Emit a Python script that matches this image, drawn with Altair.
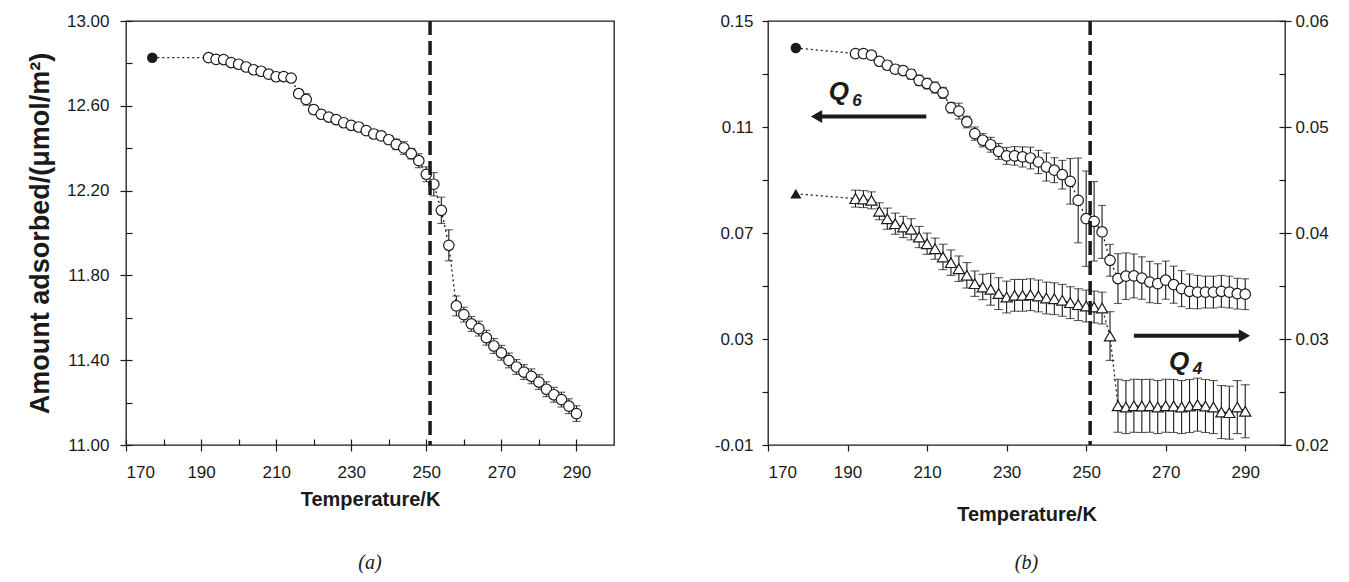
import altair as alt
import pandas as pd

# ---------------- data ----------------
temps = [192, 194, 196, 198, 200, 202, 204, 206, 208, 210, 212, 214, 216, 218, 220,
         222, 224, 226, 228, 230, 232, 234, 236, 238, 240, 242, 244, 246, 248, 250,
         252, 254, 256, 258, 260, 262, 264, 266, 268, 270, 272, 274, 276, 278, 280,
         282, 284, 286, 288, 290]
start_temp = 177
transition_temp = 251

amount_first = 12.827
amount = [12.827, 12.819, 12.818, 12.804, 12.796, 12.783, 12.770, 12.763, 12.749, 12.737,
          12.738, 12.731, 12.657, 12.630, 12.582, 12.560, 12.547, 12.535, 12.520, 12.508,
          12.500, 12.483, 12.467, 12.458, 12.440, 12.418, 12.401, 12.374, 12.341, 12.277,
          12.230, 12.107, 11.942, 11.656, 11.615, 11.571, 11.549, 11.506, 11.467, 11.435,
          11.399, 11.368, 11.344, 11.324, 11.297, 11.263, 11.237, 11.214, 11.183, 11.148]
amount_err = [0.010, 0.010, 0.010, 0.010, 0.010, 0.010, 0.010, 0.010, 0.010, 0.010,
              0.010, 0.012, 0.020, 0.027, 0.020, 0.018, 0.016, 0.016, 0.016, 0.016,
              0.017, 0.018, 0.018, 0.019, 0.020, 0.025, 0.030, 0.025, 0.033, 0.035,
              0.055, 0.062, 0.073, 0.047, 0.035, 0.035, 0.035, 0.035, 0.035, 0.035,
              0.035, 0.035, 0.035, 0.035, 0.035, 0.035, 0.035, 0.035, 0.035, 0.037]

q6_first = 0.1398
q6 = [0.1377, 0.1377, 0.1371, 0.1348, 0.1333, 0.1318, 0.1313, 0.1299, 0.1276, 0.1264,
      0.1249, 0.1229, 0.1173, 0.1160, 0.1119, 0.1075, 0.1050, 0.1033, 0.1008, 0.0991,
      0.0991, 0.0987, 0.0983, 0.0968, 0.0949, 0.0937, 0.0920, 0.0895, 0.0823, 0.0754,
      0.0744, 0.0704, 0.0597, 0.0528, 0.0537, 0.0538, 0.0530, 0.0515, 0.0509, 0.0522,
      0.0505, 0.0490, 0.0480, 0.0477, 0.0477, 0.0477, 0.0480, 0.0477, 0.0471, 0.0469]
q6_err = [0.0012, 0.0012, 0.0012, 0.0014, 0.0015, 0.0015, 0.0016, 0.0018, 0.0020, 0.0020,
          0.0021, 0.0021, 0.0020, 0.0030, 0.0022, 0.0025, 0.0025, 0.0028, 0.0030, 0.0032,
          0.0035, 0.0038, 0.0041, 0.0044, 0.0053, 0.0047, 0.0054, 0.0086, 0.0160, 0.0180,
          0.0150, 0.0100, 0.0060, 0.0094, 0.0088, 0.0083, 0.0080, 0.0078, 0.0075, 0.0072,
          0.0070, 0.0068, 0.0065, 0.0063, 0.0060, 0.0060, 0.0060, 0.0060, 0.0058, 0.0058]

q4_first = 0.0437
q4 = [0.04324, 0.04320, 0.04308, 0.04205, 0.04135, 0.04088, 0.04057, 0.04035, 0.03962, 0.03899,
      0.03852, 0.03774, 0.03720, 0.03663, 0.03601, 0.03522, 0.03491, 0.03469, 0.03428, 0.03396,
      0.03412, 0.03412, 0.03418, 0.03406, 0.03387, 0.03380, 0.03365, 0.03343, 0.03324, 0.03311,
      0.03302, 0.03292, 0.03028, 0.02370, 0.02358, 0.02370, 0.02368, 0.02370, 0.02358, 0.02370,
      0.02368, 0.02358, 0.02368, 0.02380, 0.02368, 0.02358, 0.02311, 0.02305, 0.02358, 0.02318]
q4_err = [0.0008, 0.0008, 0.0008, 0.0008, 0.0010, 0.0010, 0.0010, 0.0010, 0.0010, 0.0010,
          0.0010, 0.0012, 0.0012, 0.0012, 0.0012, 0.0012, 0.0012, 0.0015, 0.0015, 0.0015,
          0.0015, 0.0015, 0.0015, 0.0015, 0.0015, 0.0015, 0.0015, 0.0015, 0.0015, 0.0015,
          0.0015, 0.0015, 0.0023, 0.0025, 0.0025, 0.0025, 0.0025, 0.0025, 0.0025, 0.0025,
          0.0025, 0.0025, 0.0025, 0.0025, 0.0025, 0.0025, 0.0025, 0.0025, 0.0025, 0.0025]

# axis tick values
x_major = [170, 190, 210, 230, 250, 270, 290]
x_minor = [180, 200, 220, 240, 260, 280]
amount_major = [11.0, 11.4, 11.8, 12.2, 12.6, 13.0]
amount_minor = [11.2, 11.6, 12.0, 12.4, 12.8]
q6_ticks = [-0.01, 0.01, 0.03, 0.05, 0.07, 0.09, 0.11, 0.13, 0.15]
q4_major = [0.02, 0.03, 0.04, 0.05, 0.06]
q4_minor = [0.025, 0.035, 0.045, 0.055]

# annotations (data coordinates)
q6_arrow_from, q6_arrow_to, q6_arrow_level = 209.8, 182.2, 0.114
q4_arrow_from, q4_arrow_to, q4_arrow_level = 262.0, 289.8, 0.0303
q6_label_T, q6_label_v, q6_sub_T, q6_sub_v = 187.8, 0.1232, 192.4, 0.1200
q4_label_T, q4_label_v, q4_sub_T, q4_sub_v = 273.4, 0.0278, 278.0, 0.0272

# ---------------- styling ----------------
FONT = "Liberation Sans"
INK = "#1a1a1a"
CIRCLE_SIZE = 110
TRIANGLE_SIZE = 125


def frame(values, err):
    d = pd.DataFrame({"T": temps, "v": values, "e": err})
    d["lo"] = d["v"] - d["e"]
    d["hi"] = d["v"] + d["e"]
    return d


def series(d, first_val, xs, ys, line_x_axis, line_y_axis, err_x_axis, err_y_axis,
           marker, cap=8):
    first = pd.DataFrame({"T": [start_temp], "v": [first_val]})
    line_df = pd.concat([first, d[["T", "v"]]], ignore_index=True)
    line = alt.Chart(line_df).mark_line(color=INK, strokeWidth=1.3, strokeDash=[2, 3]).encode(
        x=alt.X("T:Q", scale=xs, axis=line_x_axis),
        y=alt.Y("v:Q", scale=ys, axis=line_y_axis),
        order="T:Q",
    )
    bars = alt.Chart(d).mark_rule(color=INK, strokeWidth=1.1).encode(
        x=alt.X("T:Q", scale=xs, axis=err_x_axis),
        y=alt.Y("lo:Q", scale=ys, axis=err_y_axis),
        y2="hi:Q",
    )
    caps = alt.Chart(d).transform_fold(["lo", "hi"], as_=["k", "c"]).mark_tick(
        orient="horizontal", size=cap, thickness=1.1, color=INK
    ).encode(
        x=alt.X("T:Q", scale=xs, axis=None),
        y=alt.Y("c:Q", scale=ys, axis=None),
    )
    if marker == "circle":
        pts = alt.Chart(d).mark_circle(size=CIRCLE_SIZE, color="white", stroke=INK,
                                       strokeWidth=1.2, opacity=1)
        fpt = alt.Chart(first).mark_circle(size=CIRCLE_SIZE, color=INK, opacity=1)
    else:
        pts = alt.Chart(d).mark_point(shape="triangle-up", size=TRIANGLE_SIZE, filled=True,
                                      fill="white", stroke=INK, strokeWidth=1.2, opacity=1)
        fpt = alt.Chart(first).mark_point(shape="triangle-up", size=TRIANGLE_SIZE, filled=True,
                                          color=INK, opacity=1)
    enc = dict(x=alt.X("T:Q", scale=xs, axis=None), y=alt.Y("v:Q", scale=ys, axis=None))
    return [line, bars, caps, pts.encode(**enc), fpt.encode(**enc)]


def vline(xs):
    return alt.Chart(pd.DataFrame({"T": [transition_temp]})).mark_rule(
        color=INK, strokeWidth=3.5, strokeDash=[14, 6]
    ).encode(x=alt.X("T:Q", scale=xs, axis=None))


def arrow(x_from, x_to, level, shape, xs, ys):
    shaft = alt.Chart(pd.DataFrame({"a": [x_from], "b": [x_to], "v": [level]})).mark_rule(
        color=INK, strokeWidth=4
    ).encode(x=alt.X("a:Q", scale=xs, axis=None), x2="b:Q",
             y=alt.Y("v:Q", scale=ys, axis=None))
    head = alt.Chart(pd.DataFrame({"T": [x_to], "v": [level]})).mark_point(
        shape=shape, filled=True, color=INK, size=170, opacity=1
    ).encode(x=alt.X("T:Q", scale=xs, axis=None), y=alt.Y("v:Q", scale=ys, axis=None))
    return [shaft, head]


def qlabel(tq, vq, ts, vs, sub, xs, ys):
    big = alt.Chart(pd.DataFrame({"T": [tq], "v": [vq], "t": ["Q"]})).mark_text(
        font=FONT, fontSize=26, fontStyle="italic", fontWeight="bold", color=INK
    ).encode(x=alt.X("T:Q", scale=xs, axis=None), y=alt.Y("v:Q", scale=ys, axis=None), text="t:N")
    small = alt.Chart(pd.DataFrame({"T": [ts], "v": [vs], "t": [sub]})).mark_text(
        font=FONT, fontSize=17, fontStyle="italic", fontWeight="bold", color=INK
    ).encode(x=alt.X("T:Q", scale=xs, axis=None), y=alt.Y("v:Q", scale=ys, axis=None), text="t:N")
    return [big, small]


# ---------------- panel (a) ----------------
xs_a = alt.Scale(domain=[170, 300], nice=False, zero=False)
ys_a = alt.Scale(domain=[11, 13], nice=False, zero=False)

ax_x_major = alt.Axis(orient="bottom", values=x_major, format="d", tickSize=12, offset=-6,
                      domain=False, grid=False, labelPadding=13, title="Temperature/K",
                      titlePadding=9)
ax_x_minor = alt.Axis(orient="bottom", values=x_minor, labels=False, tickSize=6, offset=-6,
                      domain=False, grid=False, title=None)
ax_y_major = alt.Axis(orient="left", values=amount_major, format=".2f", tickSize=12, offset=-6,
                      domain=False, grid=False, labelPadding=11,
                      title="Amount adsorbed/(\u03bcmol/m\u00b2)", titleFontSize=27,
                      titlePadding=12)
ax_y_minor = alt.Axis(orient="left", values=amount_minor, labels=False, tickSize=6, offset=-6,
                      domain=False, grid=False, title=None)

df_a = frame(amount, amount_err)
layers_a = series(df_a, amount_first, xs_a, ys_a, ax_x_major, ax_y_major,
                  ax_x_minor, ax_y_minor, "circle")
panel_a = alt.layer(*layers_a, vline(xs_a)).resolve_axis(
    x="independent", y="independent"
).properties(
    width=488, height=424,
    title=alt.TitleParams("(a)", orient="bottom", font="Liberation Serif", fontSize=20,
                          fontStyle="italic", fontWeight="normal", color=INK, offset=44),
)

# ---------------- panel (b) ----------------
xs_b = alt.Scale(domain=[170, 300], nice=False, zero=False)
ys_q6 = alt.Scale(domain=[-0.01, 0.15], nice=False, zero=False)
ys_q4 = alt.Scale(domain=[0.02, 0.06], nice=False, zero=False)

ax_xb = alt.Axis(orient="bottom", values=x_major, format="d", tickSize=6, domain=False,
                 grid=False, labelPadding=13, title="Temperature/K", titlePadding=24)
ax_q6 = alt.Axis(orient="left", values=q6_ticks, tickSize=6, domain=False, grid=False,
                 labelPadding=9, title=None,
                 labelExpr="(round(datum.value*100)+1) % 4 == 0 ? "
                           "replace(format(datum.value, '.2f'), '\u2212', '-') : ''")
ax_q4_major = alt.Axis(orient="right", values=q4_major, format=".2f", tickSize=12, offset=-6,
                       domain=False, grid=False, labelPadding=4, title=None)
ax_q4_minor = alt.Axis(orient="right", values=q4_minor, labels=False, tickSize=6, offset=-6,
                       domain=False, grid=False, title=None)

df_q6 = frame(q6, q6_err)
df_q4 = frame(q4, q4_err)

layers_b = series(df_q4, q4_first, xs_b, ys_q4, None, ax_q4_major, None, ax_q4_minor,
                  "triangle", cap=9)
layers_b += arrow(q4_arrow_from, q4_arrow_to, q4_arrow_level, "triangle-right", xs_b, ys_q4)
layers_b += qlabel(q4_label_T, q4_label_v, q4_sub_T, q4_sub_v, "4", xs_b, ys_q4)
layers_b += series(df_q6, q6_first, xs_b, ys_q6, ax_xb, ax_q6, None, None, "circle")
layers_b += arrow(q6_arrow_from, q6_arrow_to, q6_arrow_level, "triangle-left", xs_b, ys_q6)
layers_b += qlabel(q6_label_T, q6_label_v, q6_sub_T, q6_sub_v, "6", xs_b, ys_q6)
layers_b.append(vline(xs_b))

panel_b = alt.layer(*layers_b).resolve_scale(y="independent").resolve_axis(
    x="independent", y="independent"
).properties(
    width=517, height=424,
    title=alt.TitleParams("(b)", orient="bottom", font="Liberation Serif", fontSize=20,
                          fontStyle="italic", fontWeight="normal", color=INK, offset=29),
)

chart = alt.hconcat(panel_a, panel_b, spacing=98).properties(
    padding={"left": 17, "top": 3, "right": 5, "bottom": 5}
).configure_view(
    stroke=INK, strokeWidth=1.3
).configure_axis(
    labelFont=FONT, labelFontSize=17, labelColor=INK,
    tickColor=INK, tickWidth=1.2,
    titleFont=FONT, titleFontSize=20, titleFontWeight="bold", titleColor=INK,
)

chart.save("out.html", embed_options={"renderer": "svg", "actions": False})
